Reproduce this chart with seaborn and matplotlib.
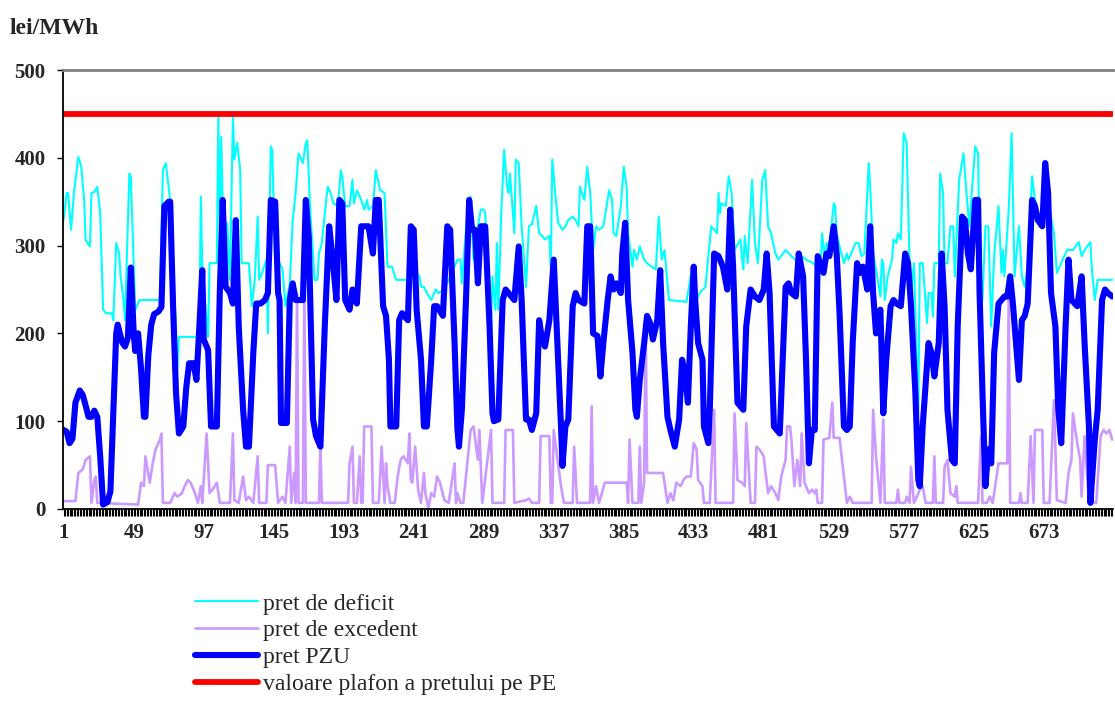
import pandas as pd
import matplotlib
matplotlib.use("Agg")
import matplotlib.pyplot as plt
import seaborn as sns

# ore (1..720) si preturi in lei/MWh
pret_deficit = [
    (1, 330), (3, 360), (4, 360), (6, 318), (8, 360), (11, 401), (13, 390), (15, 352), (16, 306), (19, 299),
    (20, 360), (22, 361), (24, 367), (26, 337), (28, 227), (30, 223), (34, 223), (35, 215), (37, 303), (39, 291),
    (40, 265), (42, 238), (43, 215), (46, 382), (47, 379), (50, 227), (53, 238), (67, 238), (69, 386), (71, 394),
    (74, 352), (76, 280), (79, 162), (80, 196), (94, 196), (95, 356), (96, 276), (100, 196), (101, 280), (106, 280),
    (107, 447), (108, 322), (109, 424), (111, 269), (113, 326), (115, 261), (117, 447), (118, 398), (120, 417), (122, 386),
    (123, 280), (128, 280), (130, 231), (132, 261), (134, 333), (135, 261), (137, 269), (140, 284), (141, 200), (142, 329),
    (143, 413), (144, 409), (146, 280), (149, 280), (151, 273), (153, 231), (156, 257), (158, 329), (160, 360), (162, 405),
    (165, 394), (167, 417), (168, 420), (170, 341), (173, 261), (175, 261), (176, 291), (178, 303), (181, 352), (182, 367),
    (184, 360), (186, 348), (189, 345), (191, 386), (192, 379), (194, 345), (197, 345), (199, 375), (200, 348), (202, 363),
    (205, 352), (207, 341), (209, 352), (210, 341), (213, 345), (215, 386), (218, 363), (221, 360), (223, 276), (226, 276),
    (229, 261), (237, 261), (239, 322), (242, 270), (245, 265), (246, 253), (248, 253), (250, 246), (253, 238), (256, 250),
    (258, 246), (262, 250), (271, 284), (273, 284), (274, 257), (277, 322), (280, 356), (282, 284), (285, 322), (287, 341),
    (289, 341), (290, 337), (294, 200), (295, 265), (297, 227), (298, 303), (299, 227), (301, 337), (303, 409), (305, 367),
    (306, 360), (307, 382), (310, 314), (311, 398), (313, 394), (315, 322), (318, 253), (320, 322), (322, 324), (325, 345),
    (327, 314), (329, 311), (331, 307), (334, 311), (335, 276), (336, 398), (338, 360), (340, 326), (343, 318), (345, 322),
    (347, 329), (350, 333), (352, 329), (354, 322), (355, 367), (358, 352), (360, 390), (362, 360), (364, 295), (366, 322),
    (368, 318), (371, 322), (375, 363), (377, 352), (378, 314), (380, 311), (383, 345), (385, 390), (387, 367), (388, 314),
    (391, 276), (392, 295), (394, 284), (396, 299), (399, 284), (401, 280), (404, 276), (407, 273), (409, 333), (411, 284),
    (413, 295), (416, 238), (428, 236), (429, 246), (432, 276), (434, 234), (437, 246), (441, 253), (445, 322), (449, 314),
    (450, 360), (451, 337), (452, 348), (455, 345), (457, 379), (459, 360), (461, 295), (465, 307), (466, 288), (467, 273),
    (468, 311), (470, 280), (473, 375), (475, 303), (477, 280), (480, 375), (482, 386), (484, 322), (486, 314), (489, 291),
    (491, 284), (496, 295), (500, 288), (505, 280), (507, 288), (510, 284), (515, 280), (517, 276), (520, 273), (521, 314),
    (523, 284), (524, 303), (526, 299), (529, 348), (530, 345), (531, 314), (533, 299), (536, 280), (538, 291), (539, 284),
    (541, 291), (544, 303), (546, 303), (548, 288), (550, 291), (553, 394), (554, 367), (556, 291), (558, 273), (561, 242),
    (562, 284), (563, 280), (564, 238), (566, 265), (569, 284), (570, 307), (572, 303), (573, 314), (575, 307), (577, 428),
    (579, 417), (581, 280), (582, 246), (584, 280), (587, 110), (588, 280), (590, 280), (593, 212), (594, 246), (596, 246),
    (597, 219), (598, 280), (601, 280), (602, 382), (604, 360), (605, 280), (607, 280), (609, 322), (611, 322), (612, 265),
    (615, 375), (618, 405), (620, 360), (622, 322), (626, 413), (628, 405), (629, 284), (631, 238), (633, 322), (635, 322),
    (637, 208), (639, 288), (642, 345), (644, 269), (645, 295), (646, 265), (649, 341), (651, 428), (653, 265), (656, 322),
    (658, 265), (660, 253), (662, 276), (665, 379), (667, 352), (669, 333), (672, 322), (674, 394), (677, 341), (680, 314),
    (682, 269), (684, 276), (686, 284), (689, 295), (693, 295), (697, 304), (699, 288), (701, 295), (705, 304), (706, 273),
    (708, 238), (710, 261), (720, 261),
]

pret_excedent = [
    (1, 9), (9, 9), (11, 41), (14, 45), (16, 56), (19, 60), (20, 7), (22, 33), (23, 37), (24, 7),
    (52, 5), (54, 30), (56, 26), (57, 60), (60, 30), (62, 52), (64, 68), (67, 79), (68, 86), (69, 7),
    (74, 7), (77, 18), (79, 14), (82, 18), (84, 26), (86, 33), (88, 30), (91, 18), (93, 7), (95, 26),
    (96, 7), (99, 86), (101, 18), (103, 22), (106, 30), (108, 7), (115, 7), (117, 86), (118, 10), (121, 7),
    (124, 37), (126, 10), (128, 14), (131, 7), (134, 60), (135, 7), (140, 7), (141, 50), (146, 50), (148, 7),
    (151, 14), (153, 7), (156, 71), (157, 7), (159, 41), (160, 7), (161, 246), (162, 7), (165, 7), (166, 246),
    (167, 7), (176, 7), (177, 71), (178, 7), (196, 7), (197, 52), (199, 71), (200, 7), (202, 7), (204, 60),
    (205, 7), (206, 7), (207, 94), (212, 94), (213, 7), (217, 7), (219, 71), (221, 7), (222, 52), (223, 26),
    (225, 7), (228, 7), (230, 37), (232, 56), (234, 60), (237, 52), (238, 86), (239, 33), (240, 30), (242, 71),
    (244, 22), (246, 7), (248, 41), (249, 18), (251, 1), (253, 18), (255, 14), (257, 37), (259, 30), (262, 10),
    (265, 7), (269, 52), (270, 7), (271, 18), (273, 7), (275, 7), (280, 90), (282, 94), (285, 56), (286, 90),
    (288, 7), (294, 90), (295, 7), (303, 7), (304, 90), (309, 90), (310, 7), (318, 10), (320, 12), (322, 7),
    (327, 7), (328, 83), (334, 83), (335, 7), (336, 7), (337, 90), (339, 64), (342, 26), (344, 7), (350, 7),
    (351, 71), (353, 7), (362, 7), (363, 117), (364, 7), (366, 26), (368, 7), (370, 18), (372, 30), (387, 30),
    (388, 7), (389, 79), (391, 7), (395, 7), (396, 71), (397, 7), (399, 30), (400, 220), (401, 41), (412, 41),
    (415, 7), (417, 18), (419, 10), (421, 30), (424, 26), (426, 33), (428, 37), (431, 37), (433, 75), (435, 68),
    (436, 33), (439, 26), (440, 7), (444, 7), (447, 113), (448, 7), (460, 7), (461, 109), (463, 33), (466, 30),
    (468, 26), (469, 98), (472, 7), (475, 7), (476, 71), (478, 68), (481, 60), (482, 45), (484, 18), (486, 26),
    (489, 18), (491, 10), (493, 37), (496, 56), (497, 94), (499, 94), (500, 79), (502, 26), (504, 56), (506, 26),
    (507, 86), (509, 30), (512, 18), (514, 22), (516, 18), (517, 22), (518, 7), (521, 7), (522, 79), (526, 81),
    (528, 121), (529, 81), (533, 81), (536, 37), (538, 7), (540, 14), (542, 7), (555, 7), (556, 113), (558, 60),
    (561, 7), (563, 102), (564, 7), (572, 7), (573, 22), (574, 7), (578, 7), (579, 14), (581, 7), (582, 48),
    (584, 7), (586, 14), (588, 22), (590, 26), (592, 7), (597, 7), (598, 60), (599, 7), (604, 7), (605, 48),
    (607, 56), (609, 18), (612, 14), (613, 26), (614, 7), (628, 7), (630, 83), (631, 7), (634, 7), (636, 14),
    (638, 7), (642, 52), (648, 52), (649, 246), (650, 7), (656, 7), (657, 18), (658, 7), (662, 7), (664, 83),
    (666, 7), (667, 90), (672, 90), (673, 7), (677, 7), (680, 124), (682, 10), (688, 7), (690, 41), (692, 56),
    (693, 109), (696, 75), (698, 56), (699, 14), (701, 83), (704, 7), (709, 7), (712, 83), (714, 90), (716, 86),
    (718, 90), (720, 79),
]

pret_pzu = [
    (1, 90), (3, 88), (5, 75), (7, 80), (9, 121), (12, 135), (14, 130), (16, 118), (18, 105), (20, 105),
    (22, 112), (24, 105), (26, 60), (28, 5), (31, 8), (33, 20), (35, 110), (37, 200), (38, 210), (41, 190),
    (43, 185), (45, 195), (47, 275), (49, 200), (50, 180), (52, 200), (54, 160), (56, 105), (57, 105), (59, 175),
    (61, 210), (63, 222), (66, 225), (68, 230), (70, 345), (73, 350), (74, 350), (76, 230), (78, 132), (80, 86),
    (83, 94), (85, 138), (87, 166), (90, 166), (92, 147), (94, 208), (96, 272), (97, 193), (100, 181), (102, 94),
    (106, 94), (108, 246), (110, 352), (112, 253), (115, 246), (117, 234), (119, 329), (121, 208), (124, 113), (126, 71),
    (128, 71), (131, 178), (133, 234), (136, 234), (139, 238), (141, 246), (143, 352), (146, 350), (148, 246), (149, 238),
    (150, 98), (154, 98), (156, 238), (158, 257), (160, 238), (165, 238), (167, 352), (169, 310), (172, 102), (174, 83),
    (177, 71), (180, 208), (182, 284), (183, 322), (185, 291), (188, 238), (190, 352), (192, 348), (194, 238), (197, 227),
    (199, 250), (202, 234), (205, 322), (210, 322), (213, 291), (215, 352), (217, 352), (220, 231), (222, 220), (224, 170),
    (225, 94), (229, 94), (231, 215), (233, 223), (237, 215), (239, 322), (241, 318), (243, 227), (246, 170), (248, 94),
    (250, 94), (253, 170), (255, 231), (257, 231), (261, 220), (264, 322), (266, 318), (269, 189), (271, 90), (272, 71),
    (274, 113), (277, 246), (279, 352), (281, 318), (283, 318), (285, 257), (287, 322), (290, 322), (293, 208), (295, 109),
    (296, 100), (299, 102), (302, 238), (304, 250), (306, 246), (310, 238), (313, 299), (315, 238), (318, 102), (320, 102),
    (322, 90), (325, 109), (327, 215), (329, 193), (331, 185), (334, 215), (337, 284), (339, 208), (342, 94), (343, 49),
    (345, 94), (347, 102), (350, 231), (352, 246), (354, 238), (358, 234), (360, 322), (362, 322), (364, 200), (367, 197),
    (369, 151), (371, 189), (374, 238), (376, 265), (378, 250), (380, 257), (383, 246), (384, 291), (386, 326), (388, 238),
    (391, 178), (393, 113), (394, 105), (396, 147), (399, 189), (401, 220), (403, 212), (405, 193), (408, 215), (410, 272),
    (412, 189), (415, 105), (417, 90), (420, 71), (423, 102), (425, 170), (427, 155), (429, 121), (431, 208), (433, 276),
    (434, 238), (436, 189), (439, 170), (440, 94), (443, 75), (444, 113), (447, 291), (450, 288), (453, 276), (456, 250),
    (458, 341), (460, 276), (463, 121), (467, 113), (469, 208), (472, 250), (475, 242), (478, 238), (481, 250), (483, 291),
    (485, 246), (488, 94), (490, 90), (492, 86), (496, 253), (498, 257), (500, 246), (503, 242), (505, 291), (508, 265),
    (510, 170), (512, 52), (514, 90), (516, 90), (518, 288), (522, 269), (524, 291), (526, 288), (529, 322), (531, 291),
    (533, 223), (536, 94), (538, 90), (540, 94), (542, 189), (545, 280), (547, 269), (549, 276), (552, 250), (554, 322),
    (556, 246), (558, 200), (561, 227), (563, 109), (565, 170), (568, 231), (570, 238), (572, 234), (575, 231), (578, 291),
    (580, 280), (582, 231), (585, 132), (587, 33), (588, 26), (590, 94), (594, 189), (596, 178), (598, 151), (601, 189),
    (603, 291), (605, 231), (607, 113), (610, 56), (612, 52), (614, 208), (617, 333), (619, 329), (621, 291), (623, 273),
    (626, 352), (628, 352), (629, 246), (631, 132), (633, 26), (635, 68), (637, 52), (639, 178), (642, 234), (644, 238),
    (646, 242), (648, 242), (650, 265), (652, 231), (656, 147), (658, 215), (660, 220), (662, 234), (665, 352), (667, 345),
    (669, 329), (672, 322), (674, 394), (676, 360), (678, 246), (681, 208), (683, 113), (685, 75), (688, 208), (690, 284),
    (692, 238), (696, 231), (699, 265), (701, 189), (704, 94), (705, 7), (708, 79), (710, 113), (713, 238), (715, 250),
    (717, 246), (720, 242),
]

plafon_pe = [(1, 450), (720, 450)]

etichete_ore = [1, 49, 97, 145, 193, 241, 289, 337, 385, 433, 481, 529, 577, 625, 673]
valori_y = [0, 100, 200, 300, 400, 500]

serii = [
    ("pret de deficit", pret_deficit, "#00FFFF", 1.5),
    ("pret de excedent", pret_excedent, "#CC99FF", 1.9),
    ("pret PZU", pret_pzu, "#0000FF", 4.4),
    ("valoare plafon a pretului pe PE", plafon_pe, "#FF0000", 4.2),
]

sns.set_theme(style="white")
plt.rcParams["font.family"] = ["Liberation Serif", "DejaVu Serif"]

fig = plt.figure(figsize=(11.15, 7.22), dpi=100)
ax = fig.add_axes([63 / 1115, 1 - 509 / 722, 1050 / 1115, 439 / 722])

for nume, puncte, culoare, grosime in serii:
    df = pd.DataFrame(puncte, columns=["ora", "pret"])
    sns.lineplot(data=df, x="ora", y="pret", ax=ax, color=culoare, linewidth=grosime,
                 label=nume, estimator=None, legend=False)

ax.set_xlim(0.5, 720.5)
ax.set_ylim(0, 500)
ax.set_xticks(etichete_ore)
ax.set_xticklabels([str(e) for e in etichete_ore], fontweight="bold", fontsize=15)
ax.set_xticks(range(1, 721), minor=True)
ax.set_yticks(valori_y)
ax.set_yticklabels([str(v) for v in valori_y], fontweight="bold", fontsize=15)
ax.tick_params(axis="x", which="both", direction="out", length=5, width=0.8, color="black", pad=5, bottom=True)
ax.tick_params(axis="y", direction="out", length=4.5, width=1, color="black", pad=8, left=True)
ax.set_xlabel("")
ax.set_ylabel("")

for poz in ["left", "bottom"]:
    ax.spines[poz].set_color("black")
    ax.spines[poz].set_linewidth(1.3)
ax.spines["top"].set_color("#808080")
ax.spines["top"].set_linewidth(2)
ax.spines["right"].set_visible(False)

fig.text(10 / 1115, 1 - 29 / 722, "lei/MWh", fontweight="bold", fontsize=17, va="center", ha="left")

fig.legend(handles=ax.get_lines(), labels=[s[0] for s in serii], loc="upper left",
           bbox_to_anchor=(195 / 1115, 1 - 593 / 722), frameon=False, fontsize=17,
           handlelength=2.67, handletextpad=0.2, labelspacing=0.23, borderpad=0, borderaxespad=0)

fig.savefig("out.png", dpi=100)
